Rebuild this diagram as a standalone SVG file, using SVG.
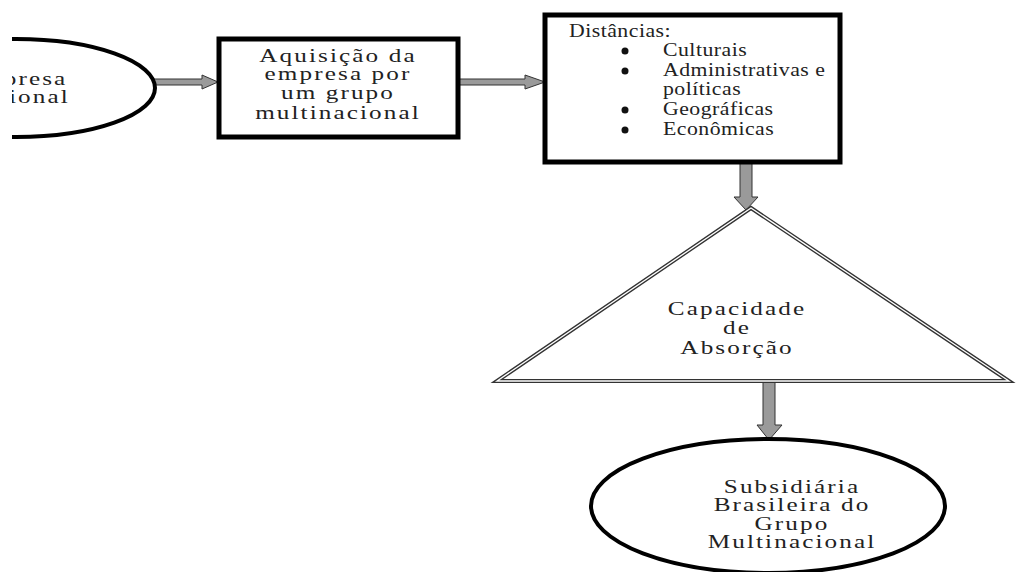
<svg xmlns="http://www.w3.org/2000/svg" width="1016" height="572" viewBox="0 0 1016 572">
<style>
.t{font-family:"Liberation Serif","Times New Roman",serif;font-size:18px;fill:#222;letter-spacing:1.5px}
.s{font-size:18px;letter-spacing:0.4px}
.m{text-anchor:middle}
.box{fill:#fff;stroke:#000;stroke-width:5}
.ell{fill:#fff;stroke:#000;stroke-width:4}
.arrow{fill:#9a9a9a;stroke:#333;stroke-width:1;stroke-linejoin:miter}
.tri1{fill:#fff;stroke:#333;stroke-width:4;stroke-linejoin:miter}
.tri2{fill:none;stroke:#fff;stroke-width:1.3;stroke-linejoin:miter}
</style>
<defs>
<clipPath id="clipL"><rect x="12" y="0" width="300" height="200"/></clipPath>
</defs>
<rect width="1016" height="572" fill="#fff"/>
<g id="connectors">
<polygon class="arrow" points="153,79 202,79 202,75 218,82 202,89 202,85 153,85"/>
<polygon class="arrow" points="458,79 525,79 525,75 545,82 525,89 525,85 458,85"/>
<polygon class="arrow" points="740,162 752,162 752,197 758,197 746,210 734,197 740,197"/>
<polygon class="arrow" points="763,381 775,381 775,425 782,425 769,440 757,425 763,425"/>
</g>
<g id="node-empresa" clip-path="url(#clipL)">
<ellipse class="ell" cx="16" cy="88" rx="139" ry="49"/>
<text class="t m" transform="translate(16,85) scale(1.4,1)">Empresa</text>
<text class="t m" transform="translate(16,103) scale(1.4,1)">Nacional</text>
</g>
<g id="node-aquisicao">
<rect class="box" x="219" y="39" width="239" height="98"/>
<text class="t m" transform="translate(338,62) scale(1.4,1)">Aquisição da</text>
<text class="t m" transform="translate(338,80) scale(1.4,1)">empresa por</text>
<text class="t m" transform="translate(338,99) scale(1.4,1)">um grupo</text>
<text class="t m" transform="translate(338,119) scale(1.4,1)">multinacional</text>
</g>
<g id="node-distancias">
<rect class="box" x="545" y="15" width="295" height="147"/>
<text class="t s" transform="translate(569,37) scale(1.21,1)">Distâncias:</text>
<circle cx="625" cy="51" r="3.5" fill="#111"/>
<circle cx="625" cy="71" r="3.5" fill="#111"/>
<circle cx="625" cy="110" r="3.5" fill="#111"/>
<circle cx="625" cy="130" r="3.5" fill="#111"/>
<text class="t s" transform="translate(663,56) scale(1.21,1)">Culturais</text>
<text class="t s" transform="translate(663,76) scale(1.21,1)">Administrativas e</text>
<text class="t s" transform="translate(663,95) scale(1.21,1)">políticas</text>
<text class="t s" transform="translate(663,115) scale(1.21,1)">Geográficas</text>
<text class="t s" transform="translate(663,135) scale(1.21,1)">Econômicas</text>
</g>
<g id="node-capacidade">
<polygon class="tri1" points="751,208 1009,381 497,381"/>
<polygon class="tri2" points="751,208 1009,381 497,381"/>
<text class="t m" transform="translate(737,315) scale(1.4,1)">Capacidade</text>
<text class="t m" transform="translate(737,334) scale(1.4,1)">de</text>
<text class="t m" transform="translate(737,354) scale(1.4,1)">Absorção</text>
</g>
<g id="node-subsidiaria">
<ellipse class="ell" cx="768" cy="506" rx="177" ry="67"/>
<text class="t m" transform="translate(792,493) scale(1.4,1)">Subsidiária</text>
<text class="t m" transform="translate(792,511) scale(1.4,1)">Brasileira do</text>
<text class="t m" transform="translate(792,530) scale(1.4,1)">Grupo</text>
<text class="t m" transform="translate(792,548) scale(1.4,1)">Multinacional</text>
</g>
</svg>
